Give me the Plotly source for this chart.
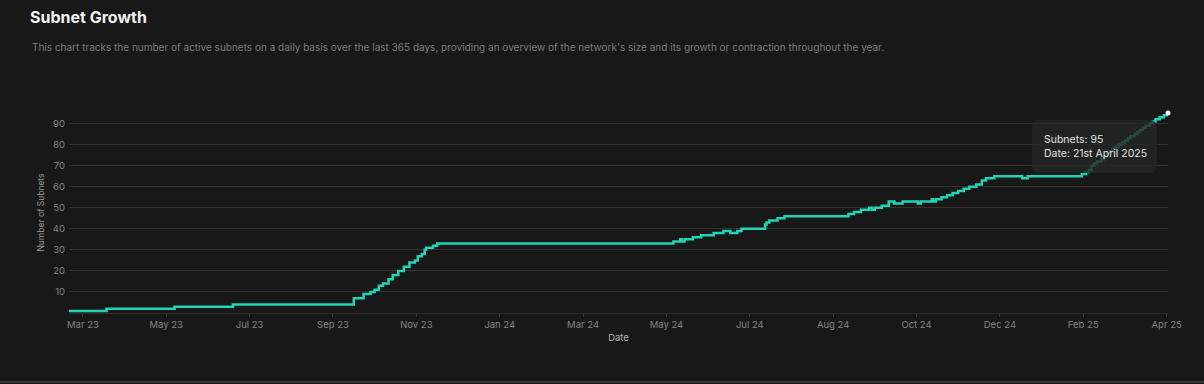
import plotly.graph_objects as go

# ---- data ----
day_index = [-10, 17, 66, 108, 195, 202, 207, 210, 213, 216, 220, 223, 227, 231, 235,
             239, 241, 244, 246, 247, 252, 255, 425, 430, 431, 433, 439, 445, 454, 461,
             466, 471, 474, 491, 492, 494, 500, 505, 551, 555, 560, 566, 568, 570, 575,
             580, 584, 590, 601, 603, 611, 612, 614, 618, 622, 626, 630, 634, 638, 643,
             647, 650, 656, 676, 680, 719, 722, 724, 726, 728, 730, 733, 735, 737, 739,
             741, 743, 746, 748, 750, 752, 754, 757, 759, 761, 763, 765, 768, 770, 772,
             775, 778, 781]
subnets = [1, 2, 3, 4, 7, 9, 10, 11, 13, 14, 16, 18, 20, 22, 24,
           25, 27, 28, 30, 31, 32, 33, 34, 35, 34, 35, 36, 37, 38, 39,
           38, 39, 40, 42, 43, 44, 45, 46, 47, 48, 49, 50, 49, 50, 51,
           53, 52, 53, 52, 53, 54, 53, 54, 55, 56, 57, 58, 59, 60, 61,
           63, 64, 65, 64, 65, 66, 67, 68, 70, 71, 72, 73, 74, 76, 77,
           78, 79, 80, 81, 82, 83, 84, 85, 86, 87, 88, 89, 90, 91, 92,
           93, 94, 95]

tick_positions = [0, 60, 120, 180, 240, 300, 360, 420, 480, 540, 600, 660, 720, 780]
tick_labels = ["Mar 23", "May 23", "Jul 23", "Sep 23", "Nov 23", "Jan 24", "Mar 24",
               "May 24", "Jul 24", "Aug 24", "Oct 24", "Dec 24", "Feb 25", "Apr 25"]
y_ticks = [10, 20, 30, 40, 50, 60, 70, 80, 90]
hover_date = "21st April 2025"

TITLE = "Subnet Growth"
SUBTITLE = ("This chart tracks the number of active subnets on a daily basis over the last 365 days, "
            "providing an overview of the network's size and its growth or contraction throughout the year.")

BG = "#181818"
TEAL = "#21d4b4"
FONT = "Inter"

fig = go.Figure()
fig.add_trace(go.Scatter(
    x=day_index, y=subnets, mode="lines", line=dict(color=TEAL, width=2.5, shape="hv"),
    hoverinfo="skip", showlegend=False))
fig.add_trace(go.Scatter(
    x=[day_index[-1]], y=[subnets[-1]], mode="markers",
    marker=dict(color="white", size=5), hoverinfo="skip", showlegend=False, cliponaxis=False))

# tooltip box (rounded rectangle) in data coordinates
x0, x1 = 683.0, 773.0
y0, y1 = 66.5, 91.7
rx, ry = 5.5, 3.6
path = (f"M {x0+rx},{y1} L {x1-rx},{y1} Q {x1},{y1} {x1},{y1-ry} L {x1},{y0+ry} "
        f"Q {x1},{y0} {x1-rx},{y0} L {x0+rx},{y0} Q {x0},{y0} {x0},{y0+ry} "
        f"L {x0},{y1-ry} Q {x0},{y1} {x0+rx},{y1} Z")
fig.add_shape(type="path", path=path, xref="x", yref="y",
              fillcolor="rgba(36,38,38,0.8)", line=dict(width=0), layer="above")

fig.add_annotation(x=x0 + 7.3, y=82.6, xref="x", yref="y", xanchor="left", yanchor="middle",
                   text=f"Subnets: {subnets[-1]}", showarrow=False,
                   font=dict(family=FONT, size=10.5, color="#e2e2e2"))
fig.add_annotation(x=x0 + 7.3, y=75.6, xref="x", yref="y", xanchor="left", yanchor="middle",
                   text=f"Date: {hover_date}", showarrow=False,
                   font=dict(family=FONT, size=10.5, color="#e2e2e2"))

# subtitle
fig.add_annotation(x=-0.0355, y=1.321, xref="paper", yref="paper", xanchor="left", yanchor="middle",
                   text=SUBTITLE, showarrow=False,
                   font=dict(family=FONT, size=10, color="#7c7c7c"))

# bottom border line of the card
fig.add_shape(type="line", xref="paper", yref="paper", x0=-0.0628, x1=1.0328, y0=-0.343, y1=-0.343,
              line=dict(color="#3a3a3a", width=2))

fig.update_layout(
    width=1204, height=384,
    paper_bgcolor=BG, plot_bgcolor=BG,
    margin=dict(l=69, r=36, t=112, b=71),
    title=dict(text=f"<b>{TITLE}</b>", x=30 / 1204, xref="container", xanchor="left",
               y=1 - 17 / 384, yref="container", yanchor="middle",
               font=dict(family=FONT, size=16, color="#f2f2f2")),
    xaxis=dict(range=[-10, 781], tickvals=tick_positions, ticktext=tick_labels,
               showgrid=False, zeroline=False, showline=True, linecolor="#2e2e2e", linewidth=1,
               ticks="outside", ticklen=3, tickcolor="#3a3a3a",
               tickfont=dict(family=FONT, size=9.5, color="#858585"),
               title=dict(text="Date", standoff=4, font=dict(family=FONT, size=9.5, color="#b5b5b5"))),
    yaxis=dict(range=[0, 95.5], tickvals=y_ticks, showgrid=True, gridcolor="#333333", gridwidth=1,
               zeroline=False, showline=False, ticks="", ticklabelstandoff=3,
               tickfont=dict(family=FONT, size=9.5, color="#858585"),
               title=dict(text="Number of Subnets", standoff=6,
                          font=dict(family=FONT, size=8.5, color="#9a9a9a"))),
)

fig.write_html("out.html", config={"displayModeBar": False},
               post_script="document.body.style.margin='0';document.body.style.background='#181818';")
